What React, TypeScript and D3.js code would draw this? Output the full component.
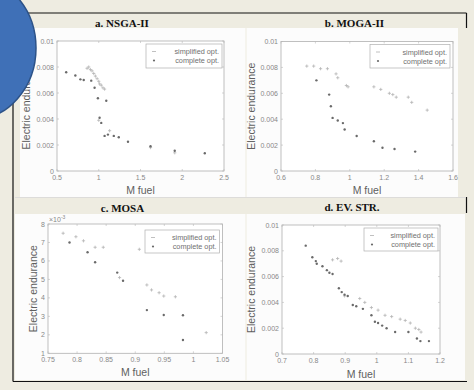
import React from 'react';
import * as d3 from 'd3';

type Pt = [number, number];

// ---- Panel a: NSGA-II ----
const nsgaComplete: Pt[] = [
  [0.61, 0.0076], [0.72, 0.00735], [0.78, 0.00705], [0.82, 0.007], [0.91, 0.00695],
  [0.95, 0.0064], [0.99, 0.0056], [1.09, 0.0054], [1.01, 0.0041], [1.03, 0.0037],
  [1.07, 0.0027], [1.11, 0.0028], [1.18, 0.0027], [1.24, 0.0026], [1.35, 0.00225],
  [1.62, 0.0019], [1.91, 0.00156], [2.27, 0.00136],
];
const nsgaSimplified: Pt[] = [
  [0.86, 0.0079], [0.88, 0.008], [0.9, 0.0078], [0.92, 0.0077], [0.94, 0.0075],
  [0.96, 0.0073], [0.98, 0.0071], [1.0, 0.0069], [1.01, 0.0067], [1.03, 0.0066],
  [1.05, 0.0064], [1.07, 0.0063], [1.0, 0.0039], [1.13, 0.0031], [1.62, 0.0018], [1.91, 0.0014],
];
const nsgaXTicks = [0.5, 1, 1.5, 2, 2.5];
const nsgaXLabels = ['0.5', '1', '1.5', '2', '2.5'];

// ---- Panel b: MOGA-II ----
const mogaComplete: Pt[] = [
  [0.806, 0.007], [0.88, 0.0059], [0.89, 0.005], [0.9, 0.0041], [0.93, 0.0039],
  [0.96, 0.0037], [0.97, 0.0032], [1.04, 0.0027], [1.14, 0.0023], [1.19, 0.0018],
  [1.26, 0.0017], [1.38, 0.0015],
];
const mogaSimplified: Pt[] = [
  [0.75, 0.0081], [0.79, 0.0081], [0.83, 0.0079], [0.87, 0.0079], [0.92, 0.0075],
  [0.93, 0.0072], [0.98, 0.0066], [0.99, 0.0065], [1.14, 0.0065], [1.18, 0.0063],
  [1.23, 0.006], [1.25, 0.0059], [1.27, 0.0057], [1.34, 0.0057], [1.36, 0.0053], [1.45, 0.0047],
];
const mogaXTicks = [0.6, 0.8, 1, 1.2, 1.4, 1.6];
const mogaXLabels = ['0.6', '0.8', '1', '1.2', '1.4', '1.6'];

// ---- Panel c: MOSA (y in 1e-3) ----
const mosaComplete: Pt[] = [
  [0.787, 7.0], [0.818, 6.47], [0.831, 5.93], [0.869, 5.37], [0.879, 4.93],
  [0.92, 3.34], [0.949, 3.07], [0.982, 3.06], [0.982, 1.72],
];
const mosaSimplified: Pt[] = [
  [0.776, 7.5], [0.798, 7.31], [0.811, 7.09], [0.831, 6.74], [0.845, 6.74], [0.907, 6.63],
  [0.873, 5.1], [0.92, 4.7], [0.928, 4.43], [0.941, 4.28], [0.949, 4.1], [0.969, 4.06], [1.022, 2.12],
];
const mosaXTicks = [0.75, 0.8, 0.85, 0.9, 0.95, 1, 1.05];
const mosaXLabels = ['0.75', '0.8', '0.85', '0.9', '0.95', '1', '1.05'];
const mosaYTicks = [1, 2, 3, 4, 5, 6, 7, 8];
const mosaYLabels = ['1', '2', '3', '4', '5', '6', '7', '8'];

// ---- Panel d: EV. STR. ----
const evComplete: Pt[] = [
  [0.775, 0.0084], [0.796, 0.0075], [0.807, 0.0072], [0.81, 0.007], [0.828, 0.0068],
  [0.842, 0.0065], [0.85, 0.0063], [0.86, 0.0062], [0.88, 0.0051], [0.889, 0.0048],
  [0.898, 0.0046], [0.908, 0.0045], [0.924, 0.0038], [0.935, 0.0037], [0.956, 0.0035],
  [0.983, 0.003], [0.994, 0.0025], [1.004, 0.0024], [1.017, 0.0022], [1.031, 0.002],
  [1.058, 0.0017], [1.1, 0.0017], [1.127, 0.0012], [1.138, 0.001], [1.165, 0.001],
];
const evSimplified: Pt[] = [
  [0.86, 0.0073], [0.876, 0.0074], [0.887, 0.0072], [0.898, 0.0045], [0.946, 0.0043],
  [0.962, 0.004], [0.983, 0.0036], [1.004, 0.0034], [1.026, 0.003], [1.047, 0.0029],
  [1.074, 0.0027], [1.09, 0.0026], [1.106, 0.0024], [1.122, 0.002], [1.133, 0.0019], [1.14, 0.0017],
];
const evXTicks = [0.7, 0.8, 0.9, 1, 1.1, 1.2];
const evXLabels = ['0.7', '0.8', '0.9', '1', '1.1', '1.2'];

const enduranceYTicks = [0, 0.002, 0.004, 0.006, 0.008, 0.01];
const enduranceYLabels = ['0', '0.002', '0.004', '0.006', '0.008', '0.01'];

const titles = ['a. NSGA-II', 'b. MOGA-II', 'c. MOSA', 'd. EV. STR.'];
const legendLabels = ['simplified opt.', 'complete opt.'];
const xAxisTitle = 'M fuel';
const yAxisTitle = 'Electric endurance';

interface PanelProps {
  bg: [number, number, number, number];
  box: [number, number, number, number]; // left, top, right, bottom
  xDomain: [number, number];
  yDomain: [number, number];
  xTicks: number[];
  xLabels: string[];
  yTicks: number[];
  yLabels: string[];
  complete: Pt[];
  simplified: Pt[];
  legend: [number, number, number, number];
  yLabelX: number;
  xLabelY: number;
  exponent?: boolean;
}

const sans = 'Liberation Sans, Arial, sans-serif';

function Panel(p: PanelProps) {
  const [l, t, r, b] = p.box;
  const x = d3.scaleLinear().domain(p.xDomain).range([l, r]);
  const y = d3.scaleLinear().domain(p.yDomain).range([b, t]);
  const [lx0, ly0, lx1, ly1] = p.legend;
  return (
    <g>
      <rect x={p.bg[0]} y={p.bg[1]} width={p.bg[2] - p.bg[0]} height={p.bg[3] - p.bg[1]} fill="#fcfcfc" />
      <rect x={l} y={t} width={r - l} height={b - t} fill="#ffffff" stroke="#b0b0b0" strokeWidth={0.8} />
      {p.xTicks.map((v, i) => (
        <g key={'xt' + i}>
          <line x1={x(v)} x2={x(v)} y1={b} y2={b - 2} stroke="#b8b8b8" strokeWidth={0.6} />
          <line x1={x(v)} x2={x(v)} y1={t} y2={t + 2} stroke="#b8b8b8" strokeWidth={0.6} />
          <text x={x(v)} y={b + 9} fontSize={7} fill="#888" textAnchor="middle" fontFamily={sans}>{p.xLabels[i]}</text>
        </g>
      ))}
      {p.yTicks.map((v, i) => (
        <g key={'yt' + i}>
          <line x1={l} x2={l + 2} y1={y(v)} y2={y(v)} stroke="#b8b8b8" strokeWidth={0.6} />
          <line x1={r} x2={r - 2} y1={y(v)} y2={y(v)} stroke="#b8b8b8" strokeWidth={0.6} />
          <text x={l - 3} y={y(v) + 2.5} fontSize={7} fill="#888" textAnchor="end" fontFamily={sans}>{p.yLabels[i]}</text>
        </g>
      ))}
      {p.exponent && (
        <text x={l + 1} y={t - 2} fontSize={7} fill="#888" fontFamily={sans}>
          ×10<tspan fontSize={5} dy={-3}>-3</tspan>
        </text>
      )}
      <text x={(l + r) / 2} y={p.xLabelY} fontSize={10.5} fill="#5f5f5f" textAnchor="middle" fontFamily={sans}>{xAxisTitle}</text>
      <text transform={`translate(${p.yLabelX},${(t + b) / 2}) rotate(-90)`} fontSize={10.5} fill="#5f5f5f" textAnchor="middle" fontFamily={sans}>{yAxisTitle}</text>
      {p.simplified.map((d, i) => (
        <g key={'s' + i} stroke="#b4b4b4" strokeWidth={0.8}>
          <line x1={x(d[0]) - 1.6} x2={x(d[0]) + 1.6} y1={y(d[1])} y2={y(d[1])} />
          <line x1={x(d[0])} x2={x(d[0])} y1={y(d[1]) - 1.6} y2={y(d[1]) + 1.6} />
        </g>
      ))}
      {p.complete.map((d, i) => (
        <circle key={'c' + i} cx={x(d[0])} cy={y(d[1])} r={1.2} fill="#6a6a6a" />
      ))}
      <rect x={lx0} y={ly0} width={lx1 - lx0} height={ly1 - ly0} fill="#ffffff" stroke="#b0b0b0" strokeWidth={0.7} />
      <line x1={lx0 + 6} x2={lx0 + 10} y1={ly0 + 7.5} y2={ly0 + 7.5} stroke="#b0b0b0" strokeWidth={0.8} />
      <circle cx={lx0 + 8} cy={ly0 + 16.5} r={1.1} fill="#6a6a6a" />
      <text x={lx1 - 3} y={ly0 + 10} fontSize={7.3} fill="#707070" textAnchor="end" fontFamily={sans}>{legendLabels[0]}</text>
      <text x={lx1 - 3} y={ly0 + 19} fontSize={7.3} fill="#707070" textAnchor="end" fontFamily={sans}>{legendLabels[1]}</text>
    </g>
  );
}

export default function App() {
  const serif = 'Liberation Serif, Times New Roman, serif';
  return (
    <svg width={474} height={390} style={{ position: 'absolute', left: 0, top: 0 }} xmlns="http://www.w3.org/2000/svg">
      <rect x={0} y={0} width={474} height={390} fill="#eeece1" />
      <line x1={13} x2={466.5} y1={13} y2={13} stroke="#111" strokeWidth={1.2} />
      <line x1={13} x2={13} y1={13} y2={381.5} stroke="#111" strokeWidth={1.2} />
      <line x1={13} x2={467} y1={381.5} y2={381.5} stroke="#111" strokeWidth={1.2} />
      <line x1={466.5} x2={466.5} y1={13} y2={28} stroke="#111" strokeWidth={1.2} />
      <line x1={466.5} x2={466.5} y1={197} y2={213} stroke="#111" strokeWidth={1.2} />
      <line x1={15} x2={466} y1={197.5} y2={197.5} stroke="#d8d8d8" strokeWidth={0.8} />

      <Panel bg={[20, 28, 245.5, 197]} box={[57, 41, 224, 171]} xDomain={[0.5, 2.5]} yDomain={[0, 0.01]}
        xTicks={nsgaXTicks} xLabels={nsgaXLabels} yTicks={enduranceYTicks} yLabels={enduranceYLabels}
        complete={nsgaComplete} simplified={nsgaSimplified} legend={[146, 44, 222, 68]} yLabelX={30} xLabelY={194} />
      <Panel bg={[246.5, 28, 458, 197]} box={[281, 41.5, 453, 171]} xDomain={[0.6, 1.6]} yDomain={[0, 0.01]}
        xTicks={mogaXTicks} xLabels={mogaXLabels} yTicks={enduranceYTicks} yLabels={enduranceYLabels}
        complete={mogaComplete} simplified={mogaSimplified} legend={[370, 44.5, 450, 68]} yLabelX={255} xLabelY={194} />
      <Panel bg={[15, 214, 245.5, 380]} box={[48, 224, 222.5, 353.3]} xDomain={[0.75, 1.05]} yDomain={[1, 8]}
        xTicks={mosaXTicks} xLabels={mosaXLabels} yTicks={mosaYTicks} yLabels={mosaYLabels}
        complete={mosaComplete} simplified={mosaSimplified} legend={[145, 230, 219.5, 253]} yLabelX={37} xLabelY={376} exponent />
      <Panel bg={[246.5, 214, 465, 380]} box={[282, 225, 440, 354]} xDomain={[0.7, 1.2]} yDomain={[0, 0.01]}
        xTicks={evXTicks} xLabels={evXLabels} yTicks={enduranceYTicks} yLabels={enduranceYLabels}
        complete={evComplete} simplified={evSimplified} legend={[364, 228, 438, 251]} yLabelX={255} xLabelY={378} />

      <text x={122} y={26.5} fontSize={11} fontWeight="bold" textAnchor="middle" fontFamily={serif} fill="#111">{titles[0]}</text>
      <text x={354.5} y={26.5} fontSize={11} fontWeight="bold" textAnchor="middle" fontFamily={serif} fill="#111">{titles[1]}</text>
      <text x={122.5} y={212} fontSize={11} fontWeight="bold" textAnchor="middle" fontFamily={serif} fill="#111">{titles[2]}</text>
      <text x={352} y={211} fontSize={11} fontWeight="bold" textAnchor="middle" fontFamily={serif} fill="#111">{titles[3]}</text>

      <ellipse cx={-28} cy={48} rx={64} ry={72} fill="#3f70b7" stroke="#2c5288" strokeWidth={1.5} />
    </svg>
  );
}
